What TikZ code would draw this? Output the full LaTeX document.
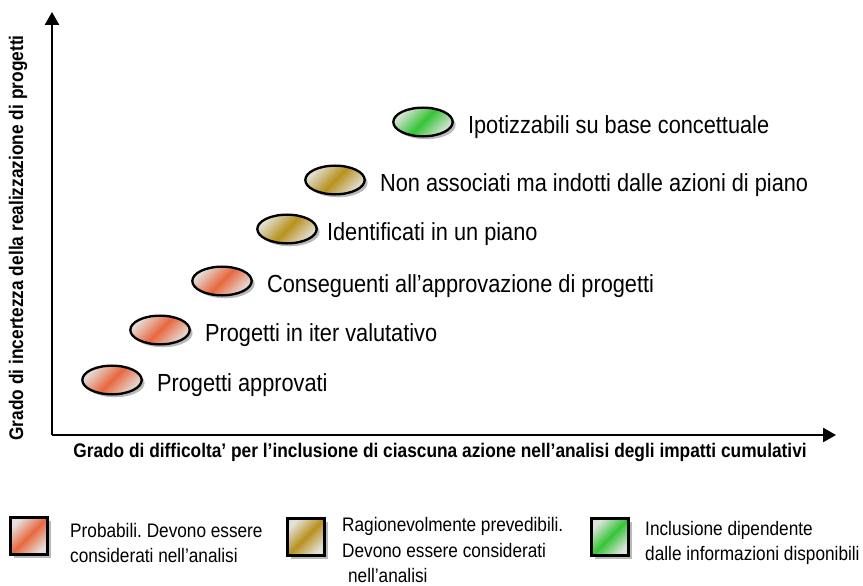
\documentclass[tikz,border=0pt]{standalone}
\usepackage{fontspec}
\setmainfont{Liberation Sans}[FakeStretch=0.88]
\usetikzlibrary{arrows.meta,positioning,shapes.geometric,shadows}
\frenchspacing

\definecolor{probred}{HTML}{E8683F}
\definecolor{prevgold}{HTML}{B8921E}
\definecolor{infogreen}{HTML}{36C436}

\begin{document}
\begin{tikzpicture}[x=0.03cm, y=-0.03cm, node distance=0.45cm,
  axis/.style={line width=1.7pt, -{Triangle[length=11pt,width=12pt]}},
  tint/.style={left color=#1!25!gray!25, right color=#1!25!gray!25, middle color=#1, shading angle=45},
  blob/.style={ellipse, draw, line width=2pt, minimum width=1.78cm, minimum height=0.86cm, inner sep=0pt,
    drop shadow={shadow xshift=2.5pt, shadow yshift=-2.5pt, fill=gray!55, opacity=1}},
  chip/.style={rectangle, draw, line width=2.4pt, minimum size=1.1cm, inner sep=0pt,
    drop shadow={shadow xshift=3pt, shadow yshift=-3pt, fill=gray!55, opacity=1}},
  lbl/.style={inner sep=0pt, yshift=-4pt, font=\fontsize{21.1}{24}\selectfont},
  key/.style={anchor=west, align=left, inner sep=0pt, font=\fontsize{16.7}{21.5}\selectfont},
  axlbl/.style={inner sep=0pt, font=\bfseries\fontsize{16.8}{18}\selectfont}]
  \useasboundingbox (0,0) rectangle (863,586);

  % axes
  \coordinate (O) at (52,435);
  \coordinate (ytip) at (52,12);
  \coordinate (xtip) at (836,435);
  \draw[axis] (O) -- (ytip);
  \draw[axis] (O) -- (xtip);
  \node[axlbl, rotate=90] (ylbl) at (18,238) {Grado di incertezza della realizzazione di progetti};
  \node[axlbl] (xlbl) at (440,452) {Grado di difficolta’ per l’inclusione di ciascuna azione nell’analisi degli impatti cumulativi};

  % categories
  \node[blob, tint=probred] (e1) at (112,380) {};
  \node[blob, tint=probred] (e2) at (160,330) {};
  \node[blob, tint=probred] (e3) at (222,281) {};
  \node[blob, tint=prevgold] (e4) at (287,229) {};
  \node[blob, tint=prevgold] (e5) at (335,180) {};
  \node[blob, tint=infogreen] (e6) at (423,122) {};

  \node[lbl, right=0.42cm of e1] (t1) {Progetti approvati};
  \node[lbl, right=0.42cm of e2] (t2) {Progetti in iter valutativo};
  \node[lbl, right=0.42cm of e3] (t3) {Conseguenti all’approvazione di progetti};
  \node[lbl, right=0.27cm of e4] (t4) {Identificati in un piano};
  \node[lbl, right=0.42cm of e5] (t5) {Non associati ma indotti dalle azioni di piano};
  \node[lbl, right=0.42cm of e6] (t6) {Ipotizzabili su base concettuale};

  % legend
  \node[chip, tint=probred] (s1) at (29,536) {};
  \node[chip, tint=prevgold] (s2) at (306,537) {};
  \node[chip, tint=infogreen] (s3) at (610,537) {};
  \node[key] (k1) at (70,543) {Probabili. Devono essere\\considerati nell’analisi};
  \node[key] (k2) at (342,550) {Ragionevolmente prevedibili.\\Devono essere considerati\\\hspace{0.3em}nell’analisi};
  \node[key] (k3) at (645,543) {Inclusione dipendente\\dalle informazioni disponibili};
\end{tikzpicture}
\end{document}
